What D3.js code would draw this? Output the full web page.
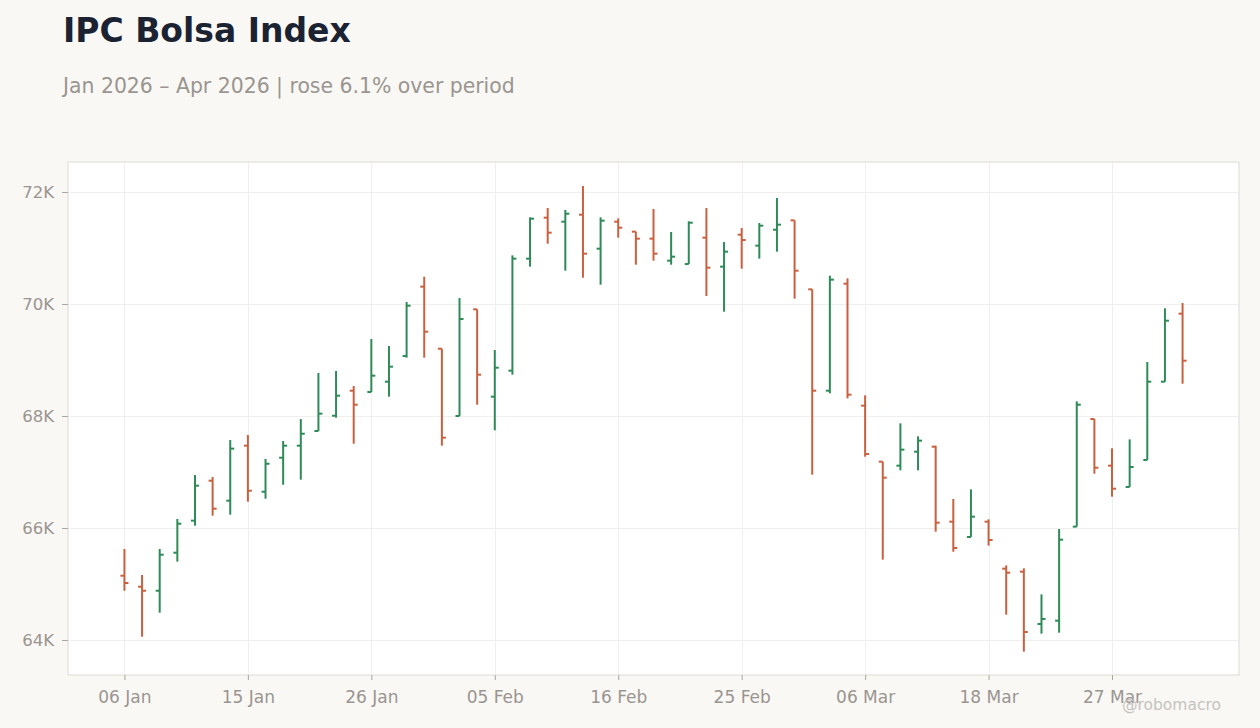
<!DOCTYPE html>
<html>
<head>
<meta charset="utf-8">
<script src="https://cdn.jsdelivr.net/npm/d3@7"></script>
<style>
  body { margin: 0; background: #f9f8f5; font-family: "DejaVu Sans", sans-serif; }
  svg { display: block; }
</style>
</head>
<body>
<svg width="1260" height="728"></svg>
<script>
// trading days (Mexican market calendar)
const dates = [
  '2026-01-06','2026-01-07','2026-01-08','2026-01-09','2026-01-12','2026-01-13','2026-01-14','2026-01-15','2026-01-16',
  '2026-01-19','2026-01-20','2026-01-21','2026-01-22','2026-01-23','2026-01-26','2026-01-27','2026-01-28','2026-01-29','2026-01-30',
  '2026-02-03','2026-02-04','2026-02-05','2026-02-06','2026-02-09','2026-02-10','2026-02-11','2026-02-12','2026-02-13',
  '2026-02-16','2026-02-17','2026-02-18','2026-02-19','2026-02-20','2026-02-23','2026-02-24','2026-02-25','2026-02-26','2026-02-27',
  '2026-03-02','2026-03-03','2026-03-04','2026-03-05','2026-03-06','2026-03-09','2026-03-10','2026-03-11','2026-03-12','2026-03-13',
  '2026-03-17','2026-03-18','2026-03-19','2026-03-20','2026-03-23','2026-03-24','2026-03-25','2026-03-26','2026-03-27',
  '2026-03-30','2026-03-31','2026-04-01','2026-04-02'
];

const open = [
  65148, 64952, 64880, 65559, 66131, 66845, 66488, 67470, 66648, 67255,
  67470, 67732, 68005, 68452, 68429, 68613, 69071, 70310, 69202, 68000,
  69905, 68345, 68810, 70810, 71542, 71470, 71595, 70988, 71470, 71292,
  71167, 70774, 70714, 71185, 70667, 71238, 71042, 71327, 71494, 70262,
  68452, 70363, 68185, 67185, 67113, 67363, 67452, 66113, 65839, 66113,
  65274, 65220, 64286, 64345, 66024, 67946, 67113, 66732, 67214, 68613,
  69827
];
const high = [
  65625, 65161, 65625, 66161, 66946, 66911, 67571, 67661, 67232, 67554,
  67946, 68768, 68804, 68536, 69375, 69250, 70036, 70488, 69202, 70107,
  69905, 69179, 70869, 71548, 71714, 71679, 72107, 71548, 71530, 71292,
  71696, 71286, 71476, 71714, 71107, 71357, 71446, 71893, 71494, 70262,
  70506, 70458, 68369, 67185, 67869, 67637, 67470, 66518, 66690, 66155,
  65333, 65280, 64815, 65982, 68262, 67946, 67423, 67583, 68964, 69923,
  70018
];
const low = [
  64880, 64059, 64488, 65399, 66042, 66220, 66238, 66470, 66523, 66773,
  66863, 67732, 67970, 67505, 68429, 68345, 69042, 69042, 67470, 68000,
  68202, 67744, 68738, 70667, 71077, 70595, 70470, 70345, 71185, 70702,
  70774, 70702, 70714, 70143, 69863, 70631, 70810, 70935, 70095, 66952,
  68405, 68315, 67274, 65435, 67030, 67030, 65934, 65577, 65839, 65685,
  64452, 63792, 64113, 64131, 66024, 66970, 66560, 66732, 67214, 68613,
  68577
];
const close = [
  65018, 64880, 65523, 66077, 66756, 66345, 67417, 66666, 67148, 67470,
  67684, 68042, 68363, 68202, 68720, 68881, 69970, 69506, 67613, 69732,
  68738, 68863, 70810, 71524, 71274, 71613, 70899, 71488, 71363, 71167,
  70899, 70845, 71452, 70649, 70935, 71143, 71399, 71417, 70595, 68452,
  70435, 68381, 67321, 66899, 67399, 67560, 66095, 65643, 66202, 65786,
  65202, 64143, 64375, 65792, 68202, 67077, 66702, 67089, 68613, 69702,
  68988
];
const yTicks = [64000, 66000, 68000, 70000, 72000];

const upColor = '#2e8b57';
const downColor = '#c9603f';

const bars = dates.map((d, i) => ({
    date: d, open: open[i], high: high[i], low: low[i], close: close[i]
}));

const svg = d3.select('svg');
const plotLeft = 68, plotRight = 1239, plotTop = 162, plotBottom = 675;

// titres
svg.append('text')
    .attr('x', 63).attr('y', 42)
    .attr('font-size', 33).attr('font-weight', 'bold')
    .attr('fill', '#1b2333')
    .text('IPC Bolsa Index');

svg.append('text')
    .attr('x', 63).attr('y', 93)
    .attr('font-size', 20.4)
    .attr('fill', '#999590')
    .text('Jan 2026 – Apr 2026 | rose 6.1% over period');

// plot background
svg.append('rect')
    .attr('x', plotLeft).attr('y', plotTop)
    .attr('width', plotRight - plotLeft).attr('height', plotBottom - plotTop)
    .attr('fill', '#fff')
    .attr('stroke', '#dedad4');

const x = d3.scalePoint()
    .domain(dates)
    .range([plotLeft, plotRight])
    .padding(3.2);

const y = d3.scaleLinear()
    .domain([63375, 72536])
    .range([plotBottom, plotTop]);

const parse = d3.timeParse('%Y-%m-%d');
const fmtDate = d3.timeFormat('%d %b');
const xTickDates = dates.filter((d, i) => i % 7 === 0);

// grid
const grid = svg.append('g');
grid.selectAll('line.h')
    .data(yTicks)
    .join('line')
    .attr('x1', plotLeft + 0.5).attr('x2', plotRight - 0.5)
    .attr('y1', d => Math.round(y(d)) + 0.5)
    .attr('y2', d => Math.round(y(d)) + 0.5)
    .attr('stroke', '#f0efed');
grid.selectAll('line.v')
    .data(xTickDates)
    .join('line')
    .attr('x1', d => Math.round(x(d)) + 0.5)
    .attr('x2', d => Math.round(x(d)) + 0.5)
    .attr('y1', plotTop + 0.5).attr('y2', plotBottom - 0.5)
    .attr('stroke', '#f0efed');

// axes
const yAxis = svg.append('g')
    .attr('transform', `translate(${plotLeft},0)`)
    .call(d3.axisLeft(y).tickValues(yTicks).tickSize(6).tickPadding(8)
        .tickFormat(d => (d / 1000) + 'K'));
yAxis.select('.domain').remove();
yAxis.selectAll('line').attr('stroke', '#aaa6a0');
yAxis.selectAll('text')
    .attr('font-family', 'DejaVu Sans').attr('font-size', 16.5).attr('fill', '#999590');

const xAxis = svg.append('g')
    .attr('transform', `translate(0,${plotBottom})`)
    .call(d3.axisBottom(x).tickValues(xTickDates).tickSize(5).tickPadding(11)
        .tickFormat(d => fmtDate(parse(d))));
xAxis.select('.domain').remove();
xAxis.selectAll('line').attr('stroke', '#aaa6a0');
xAxis.selectAll('text')
    .attr('font-family', 'DejaVu Sans').attr('font-size', 17).attr('fill', '#999590');

// OHLC bars
const g = svg.append('g');
const bar = g.selectAll('g')
    .data(bars)
    .join('g')
    .attr('stroke', d => d.close > d.open ? upColor : downColor)
    .attr('stroke-width', 2);

bar.append('line')
    .attr('x1', d => x(d.date)).attr('x2', d => x(d.date))
    .attr('y1', d => y(d.high)).attr('y2', d => y(d.low));
bar.append('line')
    .attr('x1', d => x(d.date) - 4).attr('x2', d => x(d.date))
    .attr('y1', d => y(d.open)).attr('y2', d => y(d.open));
bar.append('line')
    .attr('x1', d => x(d.date)).attr('x2', d => x(d.date) + 4)
    .attr('y1', d => y(d.close)).attr('y2', d => y(d.close));

// watermark
svg.append('text')
    .attr('x', 1221).attr('y', 710)
    .attr('text-anchor', 'end')
    .attr('font-size', 15.5)
    .attr('fill', '#c6c3be')
    .text('@robomacro');
</script>
</body>
</html>
